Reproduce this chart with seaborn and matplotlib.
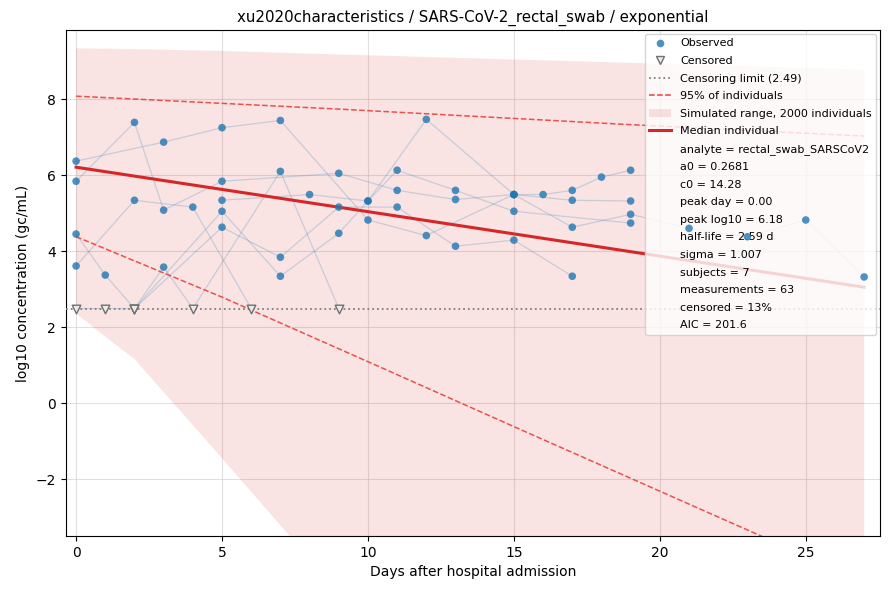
import numpy as np
import pandas as pd
import matplotlib
matplotlib.use("Agg")
import matplotlib.pyplot as plt
from matplotlib.lines import Line2D
from matplotlib.patches import Patch
import seaborn as sns

# ---------------- data ----------------
CENS_LIMIT = 2.49

s1_days = [0, 3, 5, 7, 10, 12, 15, 17, 19, 21, 23, 25, 27]
s1_vals = [6.37, 6.87, 7.25, 7.44, 4.82, 4.41, 5.49, 4.63, 4.97, 4.60, 4.38, 4.82, 3.32]
s1_cens = [0] * 13

s2_days = [0, 2, 3, 5, 9, 11, 13, 15, 16, 17, 18, 19]
s2_vals = [5.84, 7.39, 5.08, 5.84, 6.05, 5.60, 5.36, 5.49, 5.49, 5.60, 5.95, 6.13]
s2_cens = [0] * 12

s3_days = [0, 2, 4, 6]
s3_vals = [3.61, 5.34, 5.16, 2.49]
s3_cens = [0, 0, 0, 1]

s4_days = [0, 1, 2, 5, 7, 9, 10, 11, 13, 15, 19]
s4_vals = [4.45, 3.37, 2.49, 5.05, 3.34, 4.47, 5.32, 6.13, 5.60, 5.05, 4.74]
s4_cens = [0, 0, 1, 0, 0, 0, 0, 0, 0, 0, 0]

s5_days = [0, 1, 2, 5, 7, 9, 11, 13, 15, 17]
s5_vals = [2.49, 2.49, 2.49, 4.63, 3.84, 5.16, 5.16, 4.13, 4.29, 3.34]
s5_cens = [1, 1, 1, 0, 0, 0, 0, 0, 0, 0]

s6_days = [2, 3, 4, 7, 9]
s6_vals = [2.49, 3.58, 2.49, 6.10, 2.49]
s6_cens = [1, 0, 1, 0, 1]

s7_days = [5, 8, 10, 12, 15, 17, 19]
s7_vals = [5.34, 5.49, 5.32, 7.47, 5.49, 5.34, 5.32]
s7_cens = [0] * 7

# simulated range (min / max of 2000 individuals)
band_days = [0, 1, 2, 5, 8, 27]
band_low = [2.36, 1.75, 1.16, -1.45, -4.10, -20.0]
band_high = [9.34, 9.33, 9.32, 9.27, 9.20, 8.78]

# 95% of individuals
p95_days = [0, 5, 10, 15, 20, 27]
p95_low = [4.38, 2.79, 1.09, -0.62, -2.32, -4.70]
p95_up_days = [0, 9, 19, 27]
p95_up = [8.08, 7.74, 7.33, 7.03]

# median individual
med_days = [0, 27]
med_vals = [6.21, 3.05]

stats_text = [
    "analyte = rectal_swab_SARSCoV2",
    "a0 = 0.2681",
    "c0 = 14.28",
    "peak day = 0.00",
    "peak log10 = 6.18",
    "half-life = 2.59 d",
    "sigma = 1.007",
    "subjects = 7",
    "measurements = 63",
    "censored = 13%",
    "AIC = 201.6",
]

# ---------------- build table ----------------
subjects = [
    (s1_days, s1_vals, s1_cens), (s2_days, s2_vals, s2_cens),
    (s3_days, s3_vals, s3_cens), (s4_days, s4_vals, s4_cens),
    (s5_days, s5_vals, s5_cens), (s6_days, s6_vals, s6_cens),
    (s7_days, s7_vals, s7_cens),
]
rows = []
for i, (d, v, c) in enumerate(subjects):
    for dd, vv, cc in zip(d, v, c):
        rows.append({"subject": f"S{i+1}", "day": dd, "value": vv, "censored": bool(cc)})
df = pd.DataFrame(rows)
obs = df[~df.censored]
cen = df[df.censored]

# ---------------- plot ----------------
fig, ax = plt.subplots(figsize=(8.9, 5.9), dpi=100)
fig.subplots_adjust(left=0.074, right=0.989, top=0.949, bottom=0.0915)

ax.fill_between(band_days, band_low, band_high, color="#d62728", alpha=0.13,
                linewidth=0, zorder=1)

sns.lineplot(data=df, x="day", y="value", units="subject", estimator=None,
             color="#1f77b4", alpha=0.22, linewidth=0.9, ax=ax, legend=False,
             sort=True, zorder=2)

ax.axhline(CENS_LIMIT, color="grey", linestyle=":", linewidth=1.3, zorder=3)

sns.lineplot(x=p95_up_days, y=p95_up, color="#e8413f", linestyle="--",
             linewidth=1.1, alpha=0.9, ax=ax, zorder=4)
sns.lineplot(x=p95_days, y=p95_low, color="#e8413f", linestyle="--",
             linewidth=1.1, alpha=0.9, ax=ax, zorder=4)
sns.lineplot(x=med_days, y=med_vals, color="#d62728", linewidth=2.2, ax=ax, zorder=5)

sns.scatterplot(data=obs, x="day", y="value", color="#1f77b4", alpha=0.8,
                s=30, edgecolor="none", ax=ax, zorder=6, legend=False)
sns.scatterplot(data=cen, x="day", y="value", marker="v", facecolor="#ececec",
                edgecolor="#707070", linewidth=1.0, s=38, ax=ax, zorder=6, legend=False)

ax.set_xlim(-0.35, 27.55)
ax.set_ylim(-3.5, 9.82)
ax.set_xticks([0, 5, 10, 15, 20, 25])
ax.set_yticks([-2, 0, 2, 4, 6, 8])
ax.grid(True, color="#cccccc", alpha=0.6, linewidth=0.8)
ax.set_axisbelow(True)
ax.set_xlabel("Days after hospital admission", fontsize=10)
ax.set_ylabel("log10 concentration (gc/mL)", fontsize=10)
ax.set_title("xu2020characteristics / SARS-CoV-2_rectal_swab / exponential", fontsize=10.8)

handles = [
    Line2D([], [], marker="o", linestyle="none", color="#1f77b4", alpha=0.8,
           markersize=5.5, markeredgecolor="none"),
    Line2D([], [], marker="v", linestyle="none", markerfacecolor="#ececec",
           markeredgecolor="#707070", markersize=6),
    Line2D([], [], color="grey", linestyle=":", linewidth=1.3),
    Line2D([], [], color="#e8413f", linestyle="--", linewidth=1.1),
    Patch(facecolor="#d62728", alpha=0.13, edgecolor="none"),
    Line2D([], [], color="#d62728", linewidth=2.2),
]
labels = ["Observed", "Censored", f"Censoring limit ({CENS_LIMIT})", "95% of individuals",
          "Simulated range, 2000 individuals", "Median individual"]
for t in stats_text:
    handles.append(Line2D([], [], linestyle="none"))
    labels.append(t)
ax.legend(handles, labels, loc="upper right", fontsize=8, framealpha=0.8,
          labelspacing=0.68, borderaxespad=0.35)

fig.savefig("out.png", dpi=100)
